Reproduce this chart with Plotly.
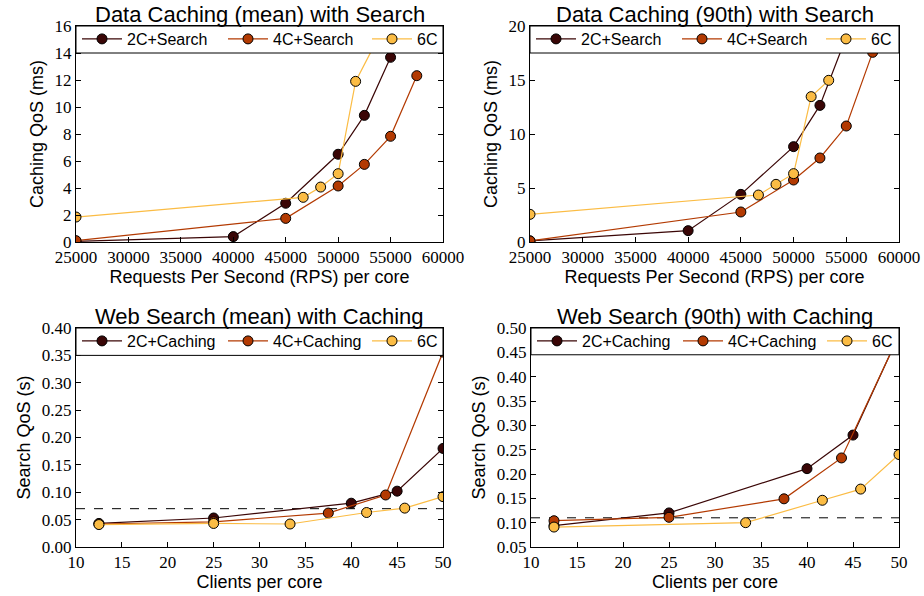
import plotly.graph_objects as go

# ---- data ----
rps_2c = [25000, 40000, 45000, 50000, 52500, 55000]
rps_4c = [25000, 45000, 50000, 52500, 55000, 57500]
rps_6c = [25000, 46667, 48333, 50000, 51667, 53333]
cache_mean_2c = [0.05, 0.4, 2.87, 6.5, 9.38, 13.68]
cache_mean_4c = [0.1, 1.75, 4.15, 5.75, 7.83, 12.32]
cache_mean_6c = [1.85, 3.31, 4.07, 5.06, 11.9, 14.4]
cache_p90_2c = [0.1, 1.05, 4.41, 8.83, 12.65, 19.0]
cache_p90_4c = [0.1, 2.78, 5.74, 7.78, 10.74, 17.56]
cache_p90_6c = [2.56, 4.35, 5.34, 6.33, 13.46, 14.97]

clients_2c = [12.5, 25, 40, 45, 50]
clients_4c = [12.5, 25, 37.5, 43.75, 50]
clients_6c_mean = [12.5, 25, 33.33, 41.67, 45.83, 50]
clients_6c_p90 = [12.5, 33.33, 41.67, 45.83, 50]
search_mean_2c = [0.043, 0.053, 0.080, 0.102, 0.180]
search_mean_4c = [0.042, 0.046, 0.062, 0.095, 0.356]
search_mean_6c = [0.041, 0.043, 0.042, 0.063, 0.071, 0.092]
search_p90_2c = [0.094, 0.120, 0.211, 0.280, 0.486]
search_p90_4c = [0.104, 0.111, 0.149, 0.233, 0.485]
search_p90_6c = [0.091, 0.100, 0.146, 0.169, 0.240]

caching_labels = ["2C+Search", "4C+Search", "6C"]
search_labels = ["2C+Caching", "4C+Caching", "6C"]
titles = ["Data Caching (mean) with Search", "Data Caching (90th) with Search",
          "Web Search (mean) with Caching", "Web Search (90th) with Caching"]
qos_target = [0.07, 0.11]
legend_floor = [14, 17.5, 0.35, 0.445]
y_ranges = [[0, 16], [0, 20], [0, 0.40], [0.05, 0.50]]
y_dtick = [2, 5, 0.05, 0.05]

colors = ["#3a0606", "#b33a02", "#fbbc44"]

W, H = 924, 596
px_x = [(76, 443), (530, 899), (76, 443), (531, 899)]
px_y = [(26, 242), (26, 242), (328, 547), (328, 547)]
legend_text_offsets = [50, 196, 340]
LEGEND_TEXT_SHIFT = 49

TICKFONT = dict(family="Liberation Serif", size=17, color="black")
SANS = "Liberation Sans"

fig = go.Figure()

panels = [
    ([rps_2c, rps_4c, rps_6c], [cache_mean_2c, cache_mean_4c, cache_mean_6c], caching_labels),
    ([rps_2c, rps_4c, rps_6c], [cache_p90_2c, cache_p90_4c, cache_p90_6c], caching_labels),
    ([clients_2c, clients_4c, clients_6c_mean], [search_mean_2c, search_mean_4c, search_mean_6c], search_labels),
    ([clients_2c, clients_4c, clients_6c_p90], [search_p90_2c, search_p90_4c, search_p90_6c], search_labels),
]

layout = dict(
    width=W, height=H, margin=dict(l=0, r=0, t=0, b=0),
    plot_bgcolor="white", paper_bgcolor="white",
    font=dict(family=SANS, color="black"),
    showlegend=True,
)

for i, (xs, ys, labels) in enumerate(panels):
    sfx = "" if i == 0 else str(i + 1)
    x0, x1 = px_x[i]
    y0, y1 = px_y[i]
    for j in range(3):
        k = i * 3 + j
        lid = "legend" if k == 0 else "legend" + str(k + 1)
        fig.add_trace(go.Scatter(
            x=xs[j], y=ys[j], name=labels[j], mode="lines+markers",
            line=dict(color=colors[j], width=1.2),
            marker=dict(color=colors[j], size=10, line=dict(color="black", width=1)),
            xaxis="x" + sfx, yaxis="y" + sfx,
            legend=lid, showlegend=True,
        ))
        layout[lid] = dict(
            orientation="h",
            x=(x0 + legend_text_offsets[j] - LEGEND_TEXT_SHIFT) / W, xanchor="left",
            y=1 - ((y0 + 13) / H), yanchor="middle",
            bgcolor="rgba(0,0,0,0)", borderwidth=0,
            font=dict(family=SANS, size=16),
            itemwidth=40,
        )

shapes = []
annotations = []
for i in range(4):
    sfx = "" if i == 0 else str(i + 1)
    x0, x1 = px_x[i]
    y0, y1 = px_y[i]
    xd = [x0 / W, x1 / W]
    yd = [1 - y1 / H, 1 - y0 / H]
    is_cache = i < 2
    layout["xaxis" + sfx] = dict(
        domain=xd, anchor="y" + sfx,
        range=[25000, 60000] if is_cache else [10, 50],
        dtick=5000 if is_cache else 5,
        tickformat="d",
        ticks="inside", ticklen=5, tickcolor="black",
        showline=True, linecolor="black", linewidth=1, mirror="ticks",
        showgrid=False, zeroline=False, tickfont=TICKFONT,
        title=dict(text="Requests Per Second (RPS) per core" if is_cache else "Clients per core",
                   font=dict(family=SANS, size=18), standoff=3),
        automargin=False,
    )
    layout["yaxis" + sfx] = dict(
        domain=yd, anchor="x" + sfx,
        range=y_ranges[i], dtick=y_dtick[i],
        tick0=y_ranges[i][0],
        tickformat="d" if is_cache else ".2f",
        ticks="inside", ticklen=5, tickcolor="black",
        showline=True, linecolor="black", linewidth=1, mirror="ticks",
        showgrid=False, zeroline=False, tickfont=TICKFONT,
        title=dict(text="Caching QoS (ms)" if is_cache else "Search QoS (s)",
                   font=dict(family=SANS, size=18), standoff=6),
        automargin=False,
    )
    shapes.append(dict(
        type="rect", xref="x" + sfx + " domain", x0=0, x1=1,
        yref="y" + sfx, y0=legend_floor[i], y1=y_ranges[i][1],
        fillcolor="white", line=dict(color="black", width=1), layer="above",
    ))
    annotations.append(dict(
        text=titles[i], xref="x" + sfx + " domain", x=0.5, yref="y" + sfx + " domain", y=1,
        xanchor="center", yanchor="bottom", showarrow=False,
        font=dict(family=SANS, size=22), yshift=-3,
    ))

for k, v in enumerate(qos_target):
    sfx = str(k + 3)
    shapes.append(dict(
        type="line", xref="x" + sfx + " domain", x0=0, x1=1,
        yref="y" + sfx, y0=v, y1=v,
        line=dict(color="black", width=1, dash="dash"), layer="below",
    ))

layout["shapes"] = shapes
layout["annotations"] = annotations
fig.update_layout(**layout)
fig.write_html("out.html", config={"displayModeBar": False},
               post_script="document.body.style.margin='0';")
